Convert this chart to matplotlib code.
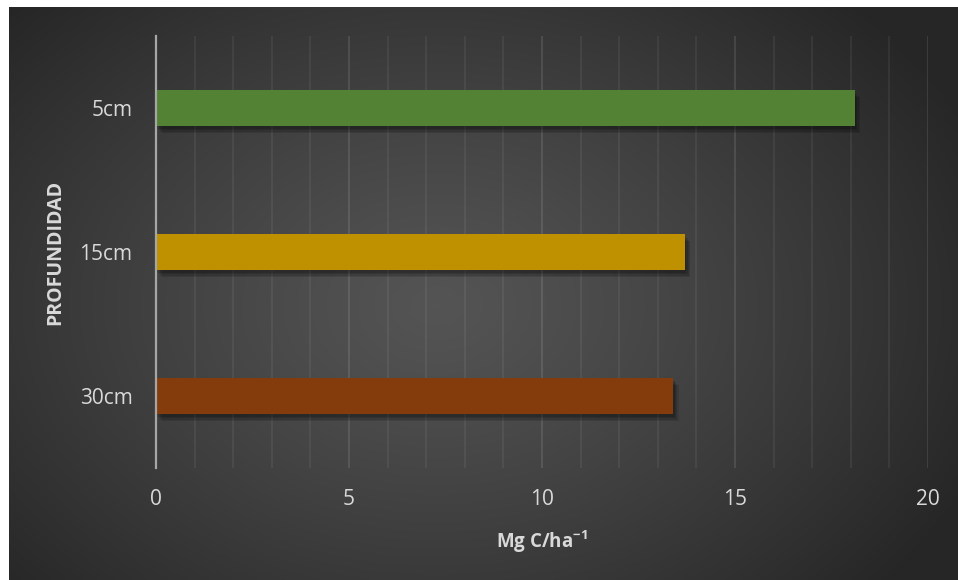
import numpy as np
import matplotlib.pyplot as plt
import matplotlib.patheffects as pe
from matplotlib.ticker import MultipleLocator

plt.rcParams['font.family'] = ['Open Sans', 'DejaVu Sans']
plt.rcParams['mathtext.fontset'] = 'custom'
plt.rcParams['mathtext.rm'] = 'Open Sans'
plt.rcParams['mathtext.bf'] = 'Open Sans:bold'

# datos
profundidades = ['5cm', '15cm', '30cm']
valores = [18.1, 13.7, 13.4]
colores = ['#548235', '#BF9000', '#843C0C']

fig = plt.figure(figsize=(9.58, 5.8), dpi=100)
fig.patch.set_facecolor('white')

# fondo con degradado radial
bg = fig.add_axes([9 / 958, 0, 949 / 958, 573 / 580])
ny, nx = 300, 500
yy, xx = np.mgrid[0:ny, 0:nx]
r = np.sqrt(((xx - nx * 0.45) / (nx * 0.62)) ** 2 + ((yy - ny * 0.52) / (ny * 0.75)) ** 2)
r = np.clip(r, 0, 1)
lum = 0.33 - 0.18 * r ** 1.2
bg.imshow(np.dstack([lum, lum, lum]), aspect='auto', extent=[0, 1, 0, 1])
bg.set_axis_off()

ax = fig.add_axes([156 / 958, 112 / 580, 772 / 958, 432 / 580])
ax.patch.set_alpha(0)

y = np.arange(len(profundidades))
bars = ax.barh(y, valores, height=0.25, color=colores, zorder=3)
# sombra suave
sombra = [pe.SimplePatchShadow(offset=(d, -d - 1), shadow_rgbFace='black', alpha=0.12) for d in (1, 2, 3, 4)]
for b in bars:
    b.set_path_effects(sombra + [pe.Normal()])

ax.set_xlim(0, 20)
ax.set_ylim(2.5, -0.5)
ax.set_yticks(y)
ax.set_yticklabels(profundidades)
ax.xaxis.set_major_locator(MultipleLocator(5))
ax.xaxis.set_minor_locator(MultipleLocator(1))

ax.grid(which='minor', axis='x', color='white', alpha=0.07, lw=1.2, zorder=0)
ax.grid(which='major', axis='x', color='white', alpha=0.12, lw=1.2, zorder=0)

for s in ['top', 'right', 'bottom']:
    ax.spines[s].set_visible(False)
ax.spines['left'].set_color('#a6a6a6')
ax.spines['left'].set_linewidth(1.6)
ax.spines['left'].set_zorder(4)

ax.tick_params(axis='both', which='both', length=0, colors='#d9d9d9', labelsize=15)
ax.tick_params(axis='y', pad=17)
ax.tick_params(axis='x', pad=15)

ax.set_xlabel(r'Mg C/ha$^{\mathbf{-1}}$', color='#d9d9d9', fontsize=13.5, fontweight='bold')
ax.set_ylabel('PROFUNDIDAD', color='#d9d9d9', fontsize=14, fontweight='bold')
ax.xaxis.set_label_coords(0.5, -0.14)
ax.yaxis.set_label_coords(-0.118, 0.5)

fig.savefig('out.png', dpi=100)
